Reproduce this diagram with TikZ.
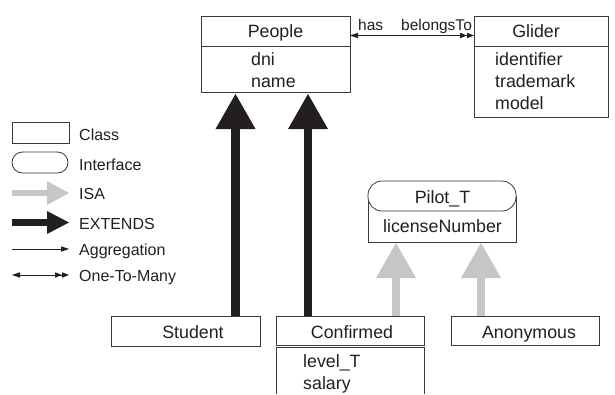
\documentclass[tikz,border=0pt]{standalone}
\usepackage{fontspec}
\setmainfont{Liberation Sans}
\usetikzlibrary{arrows.meta}
\definecolor{ink}{HTML}{231F20}
\definecolor{edge}{HTML}{3A3A3A}
\definecolor{isagray}{HTML}{C6C6C6}
\newcommand\umlfont{\fontsize{17.8}{20}\selectfont}
\newcommand\legfont{\fontsize{16}{18}\selectfont}
\newcommand\relfont{\fontsize{15.5}{17}\selectfont}
\tikzset{
  classbox/.style={draw=edge, line width=0.8pt, fill=white, inner sep=0pt, outer sep=0pt, anchor=north west},
  ifacebox/.style={classbox, rounded corners=10.5pt},
  headtext/.style={inner sep=0pt, anchor=base, text=ink, font=\umlfont},
  attrtext/.style={inner sep=0pt, anchor=base west, text=ink, font=\umlfont},
  legtext/.style={inner sep=0pt, anchor=base west, text=ink, font=\legfont},
  reltext/.style={inner sep=0pt, anchor=base west, text=ink, font=\relfont},
  extendsarrow/.style={draw=ink, line width=8.5pt, -{Triangle[length=35pt,width=40pt,line width=0pt]}},
  isaarrow/.style={draw=isagray, line width=7.5pt, -{Triangle[length=35pt,width=40pt,line width=0pt]}},
  extendsleg/.style={draw=ink, line width=7pt, -{Triangle[length=22pt,width=23pt,line width=0pt]}},
  isaleg/.style={draw=isagray, line width=6.5pt, -{Triangle[length=22pt,width=24pt,line width=0pt]}},
  aggrarrow/.style={draw=ink, line width=0.7pt, -{Triangle[length=8pt,width=5.5pt,line width=0pt]}},
  onemany/.style={draw=ink, line width=0.7pt,
    {Triangle[length=8pt,width=5.5pt,line width=0pt]}-{Triangle[length=7pt,width=5.5pt,line width=0pt]Triangle[length=7pt,width=5.5pt,line width=0pt]}},
}
\begin{document}
\begin{tikzpicture}[x=1pt,y=-1pt]
\useasboundingbox (0,0) rectangle (615,394);

% ---- People ----
\node[classbox, minimum width=149pt, minimum height=30pt] (peopleHead) at (201,16) {};
\node[classbox, minimum width=149pt, minimum height=46pt] (peopleAttr) at (201,46) {};
\node[headtext] (peopleName) at (275.5,37) {People};
\node[attrtext] (peopleDni) at (251,65) {dni};
\node[attrtext] (peopleNm) at (251,87) {name};

% ---- Glider ----
\node[classbox, minimum width=134pt, minimum height=30pt] (gliderHead) at (474,16) {};
\node[classbox, minimum width=134pt, minimum height=71pt] (gliderAttr) at (474,46) {};
\node[headtext] (gliderName) at (536,37) {Glider};
\node[attrtext] (gliderId) at (495,65) {identifier};
\node[attrtext] (gliderTm) at (495,87) {trademark};
\node[attrtext] (gliderMd) at (495,109) {model};

% ---- People / Glider relation ----
\draw[onemany] ([yshift=-4.5pt]peopleHead.east) -- ([yshift=-4.5pt]gliderHead.west);
\node[reltext] (hasLbl) at (358,30) {has};
\node[reltext] (belongsLbl) at (401,30) {belongsTo};

% ---- Pilot_T interface ----
\node[classbox, minimum width=148pt, minimum height=46pt] (pilotAttr) at (368,196) {};
\node[ifacebox, rounded corners=14pt, minimum width=148pt, minimum height=30pt] (pilotHead) at (368,181) {};
\node[headtext] (pilotName) at (442.5,203) {Pilot\_T};
\node[headtext] (pilotLic) at (442.5,232) {licenseNumber};

% ---- lower classes ----
\node[classbox, minimum width=149pt, minimum height=30pt] (student) at (111,316) {};
\node[headtext] (studentName) at (193,338) {Student};
\node[classbox, minimum width=148pt, minimum height=29pt] (confirmed) at (276,316) {};
\node[headtext] (confirmedName) at (352,338) {Confirmed};
\node[classbox, minimum width=148pt, minimum height=29pt] (anonymous) at (451,316) {};
\node[headtext] (anonymousName) at (529,338) {Anonymous};

% Confirmed attribute compartment, open at the lower edge
\coordinate (confAttrL) at (276,394);
\coordinate (confAttrR) at (424,394);
\draw[draw=edge, line width=0.8pt] (confAttrL) |- (424,347) -- (confAttrR);
\node[attrtext] (confLevel) at (303,367) {level\_T};
\node[attrtext] (confSalary) at (303,389) {salary};

% ---- inheritance arrows ----
\coordinate (s1) at ([xshift=124.5pt]student.north west);
\coordinate (c1) at ([xshift=32pt]confirmed.north west);
\coordinate (c2) at ([xshift=120pt]confirmed.north west);
\coordinate (a1) at ([xshift=30pt]anonymous.north west);
\draw[extendsarrow, shorten >=2pt] (s1) -- (s1 |- peopleAttr.south);
\draw[extendsarrow, shorten >=2pt] (c1) -- (c1 |- peopleAttr.south);
\draw[isaarrow, shorten >=1pt] (c2) -- (c2 |- pilotAttr.south);
\draw[isaarrow, shorten >=1pt] (a1) -- (a1 |- pilotAttr.south);

% ---- legend ----
\node[classbox, minimum width=57pt, minimum height=21pt] (legClass) at (12,122) {};
\node[legtext] (legClassTxt) at (79,140) {Class};
\node[ifacebox, minimum width=56pt, minimum height=21pt] (legIface) at (12,152) {};
\node[legtext] (legIfaceTxt) at (79,170) {Interface};

\coordinate (isaL) at (12,193);  \coordinate (isaR) at (69,193);
\draw[isaleg] (isaL) -- (isaR);
\node[legtext] (legIsaTxt) at (79,199.5) {ISA};

\coordinate (extL) at (12,222.5);  \coordinate (extR) at (69,222.5);
\draw[extendsleg] (extL) -- (extR);
\node[legtext] (legExtTxt) at (79,229) {EXTENDS};

\coordinate (aggL) at (12,249);  \coordinate (aggR) at (69,249);
\draw[aggrarrow] (aggL) -- (aggR);
\node[legtext] (legAggTxt) at (79,255.5) {Aggregation};

\coordinate (otmL) at (12,275);  \coordinate (otmR) at (69,275);
\draw[onemany] (otmL) -- (otmR);
\node[legtext] (legOtmTxt) at (79,281) {One-To-Many};
\end{tikzpicture}
\end{document}
